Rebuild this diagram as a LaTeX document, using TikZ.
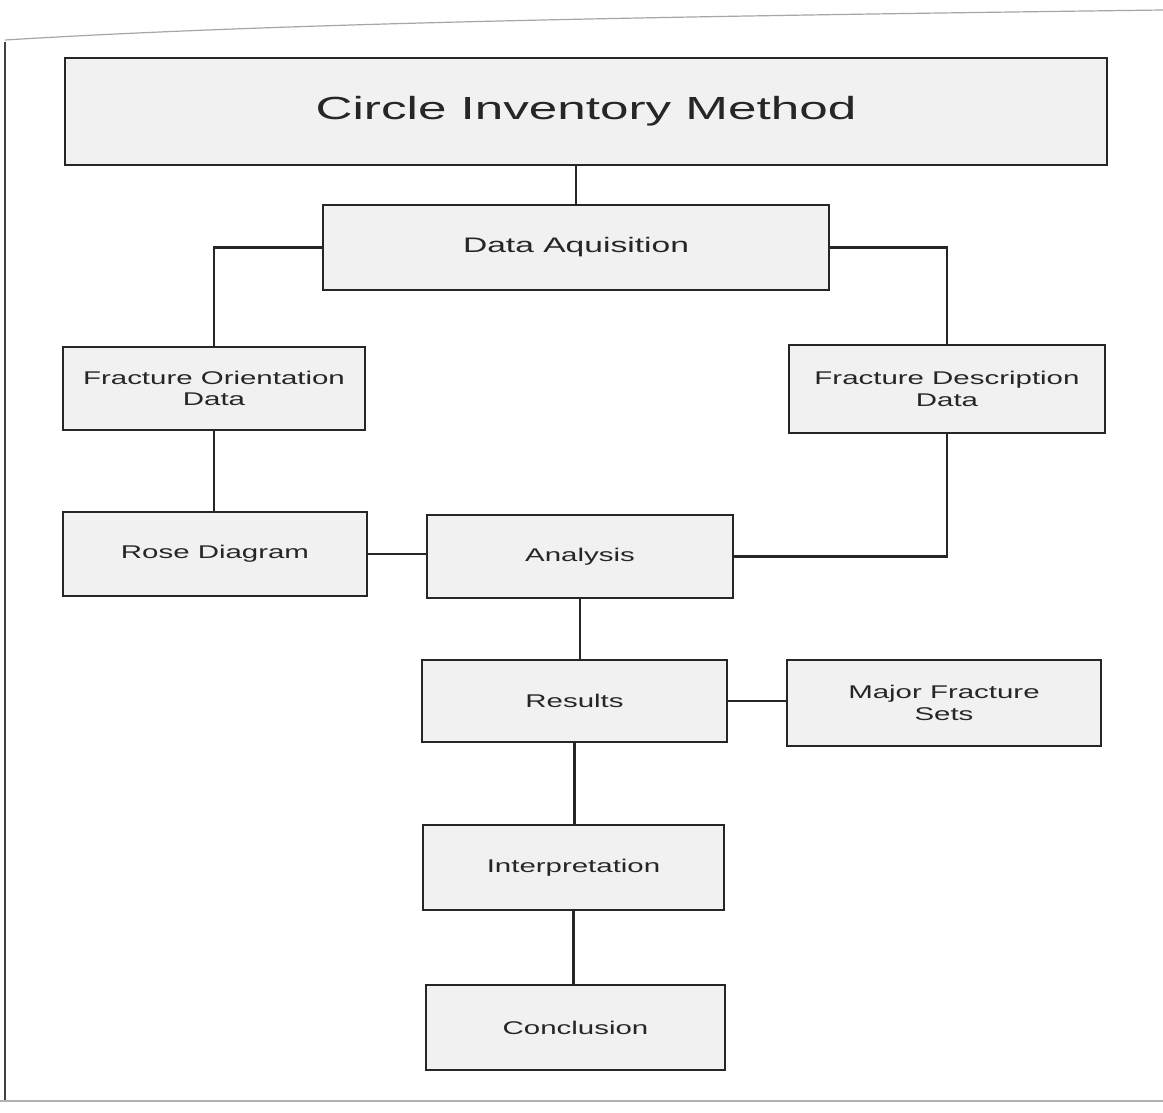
\documentclass[tikz,border=0pt]{standalone}
\usepackage{fontspec}
\setmainfont{Liberation Sans}
\newfontfamily\widefont[FakeStretch=1.6]{Liberation Sans}
\definecolor{boxfill}{HTML}{F1F1F1}
\definecolor{ink}{HTML}{262626}
\begin{document}
\begin{tikzpicture}[x=0.5pt,y=-0.5pt,
  box/.style={draw=ink, line width=1.3pt, fill=boxfill, rectangle, inner sep=0pt,
    align=center, text=ink, font=\widefont\fontsize{9.2}{10.6}\selectfont},
  link/.style={draw=ink, line width=1.3pt}]
\useasboundingbox (0,0) rectangle (1163,1113);
\fill[white] (0,0) rectangle (1163,1113);
% page edges
\draw[gray!70, line width=0.6pt] (5,40) .. controls (300,22) and (700,16) .. (1163,10);
\draw[black!75, line width=0.8pt] (5,42) -- (5,1101);
\draw[gray!60, line width=0.6pt] (0,1101) -- (1163,1101);
% nodes
\node[box, minimum width=521pt, minimum height=53.5pt,
  font=\widefont\fontsize{16}{19}\selectfont] (title) at (586,111.5) {Circle Inventory Method};
\node[box, minimum width=253pt, minimum height=42.5pt,
  font=\widefont\fontsize{10.5}{12.5}\selectfont] (acq) at (576,247.5) {Data Aquisition};
\node[box, minimum width=151pt, minimum height=41.5pt] (fod) at (214,388.5) {Fracture Orientation\\Data};
\node[box, minimum width=158pt, minimum height=44pt] (fdd) at (947,389) {Fracture Description\\Data};
\node[box, minimum width=152pt, minimum height=42pt] (rose) at (215,554) {Rose Diagram};
\node[box, minimum width=153pt, minimum height=41.5pt] (ana) at (580,556.5) {Analysis};
\node[box, minimum width=152.5pt, minimum height=41pt] (res) at (574.5,701) {Results};
\node[box, minimum width=157pt, minimum height=43pt] (mfs) at (944,703) {Major Fracture\\Sets};
\node[box, minimum width=150.5pt, minimum height=42.5pt] (interp) at (573.5,867.5) {Interpretation};
\node[box, minimum width=149.5pt, minimum height=42.5pt] (conc) at (575.5,1027.5) {Conclusion};
% connectors
\draw[link] (acq.north) -- (acq.north |- title.south);
\draw[link] (acq.west) -| (fod.north);
\draw[link] (acq.east) -| (fdd.north);
\draw[link] (fod.south) -- (fod.south |- rose.north);
\draw[link] (rose.east) -- (rose.east -| ana.west);
\draw[link] (fdd.south) |- (ana.east);
\draw[link] (ana.south) -- (ana.south |- res.north);
\draw[link] (res.east) -- (res.east -| mfs.west);
\draw[link] (res.south) -- (res.south |- interp.north);
\draw[link] (interp.south) -- (interp.south |- conc.north);
\end{tikzpicture}
\end{document}
